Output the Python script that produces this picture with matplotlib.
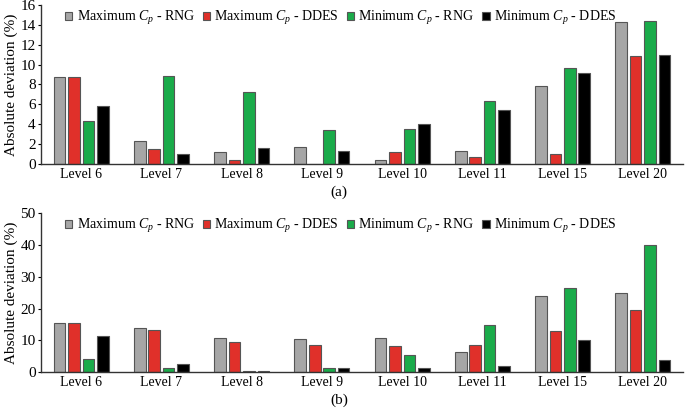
import numpy as np
import matplotlib
matplotlib.use('Agg')
import matplotlib.pyplot as plt

plt.rcParams['font.family'] = ['Liberation Serif', 'DejaVu Serif']
plt.rcParams['mathtext.fontset'] = 'custom'
plt.rcParams['mathtext.rm'] = 'Liberation Serif'
plt.rcParams['mathtext.it'] = 'Liberation Serif:italic'

levels = ['Level 6', 'Level 7', 'Level 8', 'Level 9', 'Level 10', 'Level 11', 'Level 15', 'Level 20']
series = ['Maximum $C_p$ - RNG', 'Maximum $C_p$ - DDES', 'Minimum $C_p$ - RNG', 'Minimum $C_p$ - DDES']
colors = ['#a6a6a6', '#e0302a', '#1aab4a', '#000000']

# panel (a)
a_max_rng = [8.7, 2.3, 1.2, 1.75, 0.45, 1.35, 7.8, 14.3]
a_max_ddes = [8.7, 1.5, 0.45, 0.05, 1.25, 0.75, 1.0, 10.85]
a_min_rng = [4.3, 8.9, 7.2, 3.4, 3.5, 6.35, 9.65, 14.4]
a_min_ddes = [5.8, 1.05, 1.6, 1.35, 4.0, 5.45, 9.15, 11.0]

# panel (b)
b_max_rng = [15.4, 14.0, 10.9, 10.5, 10.8, 6.3, 24.1, 24.8]
b_max_ddes = [15.4, 13.4, 9.4, 8.7, 8.4, 8.6, 13.1, 19.6]
b_min_rng = [4.3, 1.3, 0.3, 1.3, 5.5, 15.0, 26.5, 40.1]
b_min_ddes = [11.5, 2.6, 0.4, 1.5, 1.5, 2.0, 10.0, 3.9]


def panel(ax, data, ymax, ystep, tag):
    x = np.arange(len(levels))
    pitch = 0.18
    for i, vals in enumerate(data):
        ax.bar(x + (i - 1.5) * pitch, vals, 0.145, color=colors[i],
               edgecolor='#555555', linewidth=0.8, label=series[i], zorder=2)
    ax.set_xlim(-0.5, len(levels) - 0.5)
    ax.set_ylim(0, ymax)
    ax.set_yticks(np.arange(0, ymax + 0.1, ystep))
    ax.set_xticks(x)
    ax.set_xticklabels(levels)
    ax.tick_params(axis='x', length=0, labelsize=10, pad=3)
    ax.tick_params(axis='y', direction='out', length=2.5, labelsize=11, pad=1.5)
    for s in ['top', 'right']:
        ax.spines[s].set_visible(False)
    for s in ['left', 'bottom']:
        ax.spines[s].set_color('#333333')
        ax.spines[s].set_linewidth(1.0)
    ax.set_ylabel('Absolute deviation (%)', fontsize=11, labelpad=1.5)
    ax.legend(loc='upper left', bbox_to_anchor=(0.037, 0.975), ncol=4, frameon=False,
              fontsize=10, handlelength=0.55, handleheight=0.55, handletextpad=0.3,
              columnspacing=0.55, borderpad=0, borderaxespad=0)
    ax.text(0.464, -0.176, tag, transform=ax.transAxes, ha='center', va='center', fontsize=11)


fig = plt.figure(figsize=(6.85, 4.08), dpi=100)
ax1 = fig.add_axes([0.060, 0.598, 0.937, 0.390])
ax2 = fig.add_axes([0.060, 0.0875, 0.937, 0.390])
panel(ax1, [a_max_rng, a_max_ddes, a_min_rng, a_min_ddes], 16, 2, '(a)')
panel(ax2, [b_max_rng, b_max_ddes, b_min_rng, b_min_ddes], 50, 10, '(b)')

fig.savefig('out.png', dpi=100)
